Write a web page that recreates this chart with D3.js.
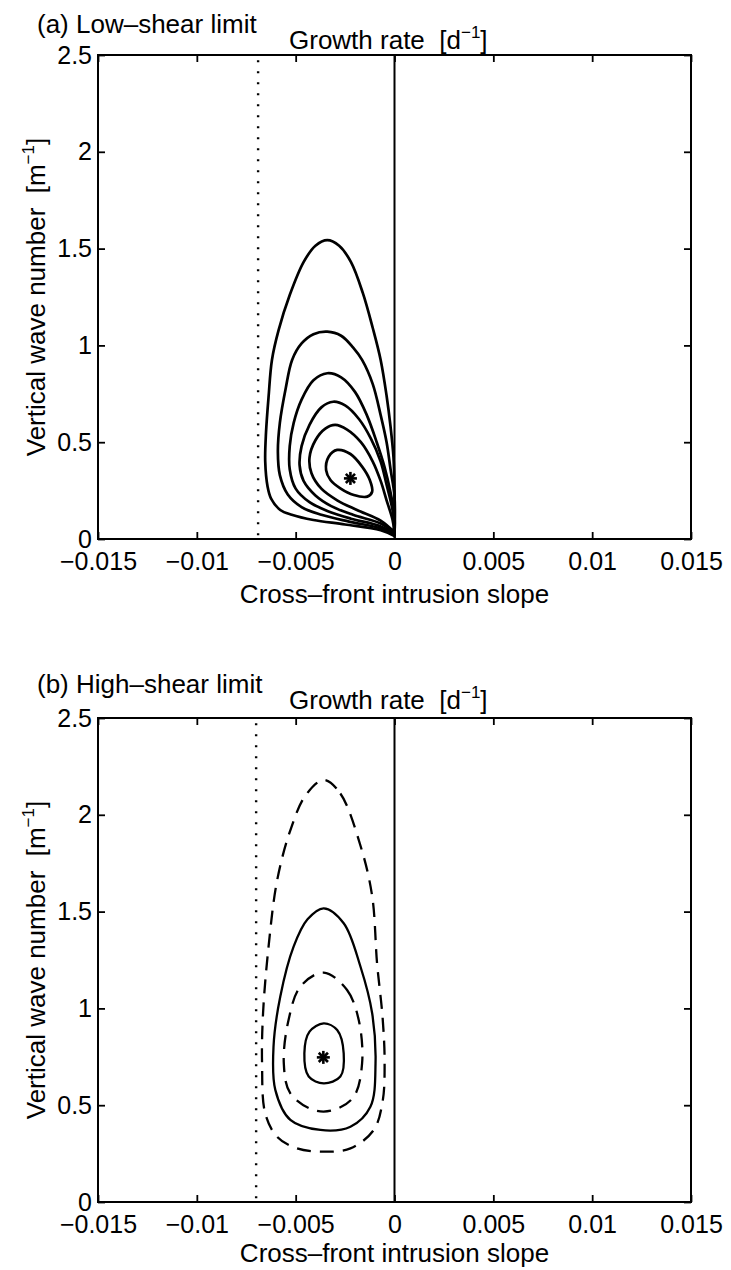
<!DOCTYPE html>
<html><head><meta charset="utf-8">
<script src="https://cdn.jsdelivr.net/npm/d3@7"></script>
<style>
body{margin:0;background:#fff}
text{font-family:"Liberation Sans",Arial,Helvetica,sans-serif;fill:#000}
</style>
</head><body>
<svg id="chart" width="731" height="1270"></svg>
<script>
// ---------- data ----------
const xTicks = [-0.015, -0.01, -0.005, 0, 0.005, 0.01, 0.015];
const xTickLabels = ["\u22120.015", "\u22120.01", "\u22120.005", "0", "0.005", "0.01", "0.015"];
const yTicks = [0, 0.5, 1, 1.5, 2, 2.5];
const yTickLabels = ["0", "0.5", "1", "1.5", "2", "2.5"];
const panelTitles = ["(a) Low\u2013shear limit", "(b) High\u2013shear limit"];
const plotTitle = "Growth rate";
const xAxisTitle = "Cross\u2013front intrusion slope";
const yAxisTitle = "Vertical wave number";
const dottedSlope = [-0.0069, -0.0070];
const starLow = [-0.00223, 0.313];
const starHigh = [-0.0036, 0.747];

// (a) low-shear contours, outer to inner (slope, wave number)
const lowC1 = [[0,0.015],[-0.0007,0.045],[-0.0025,0.075],[-0.0041,0.098],[-0.0052,0.125],[-0.00578,0.15],[-0.00625,0.21],[-0.00642,0.27],[-0.00654,0.4],[-0.0065,0.55],[-0.00637,0.735],[-0.0062,0.925],[-0.00586,1.08],[-0.0053,1.26],[-0.0046,1.43],[-0.0040,1.515],[-0.0034,1.544],[-0.0028,1.515],[-0.0022,1.43],[-0.0016,1.27],[-0.0011,1.09],[-0.0007,0.925],[-0.0004,0.74],[-0.0002,0.58],[-0.00005,0.42],[0,0.25],[0,0.015]];
const lowC2 = [[0,0.02],[-0.0007,0.055],[-0.0023,0.09],[-0.0037,0.125],[-0.0047,0.165],[-0.0054,0.23],[-0.0058,0.33],[-0.0059,0.45],[-0.0058,0.6],[-0.0055,0.78],[-0.00518,0.925],[-0.0047,1.01],[-0.0041,1.058],[-0.0034,1.071],[-0.0027,1.05],[-0.0021,0.99],[-0.00164,0.925],[-0.0011,0.8],[-0.0007,0.64],[-0.0004,0.5],[-0.0002,0.36],[0,0.22],[0,0.02]];
const lowC3 = [[0,0.025],[-0.0007,0.065],[-0.0022,0.105],[-0.0034,0.145],[-0.0043,0.19],[-0.0050,0.26],[-0.0053,0.36],[-0.0053,0.48],[-0.0051,0.6],[-0.0047,0.72],[-0.0041,0.82],[-0.0034,0.856],[-0.0027,0.835],[-0.0020,0.76],[-0.0014,0.64],[-0.0009,0.5],[-0.0005,0.37],[-0.0002,0.24],[0,0.12],[0,0.025]];
const lowC4 = [[0,0.03],[-0.0007,0.08],[-0.0021,0.125],[-0.0032,0.17],[-0.0040,0.225],[-0.0046,0.3],[-0.0048,0.38],[-0.0047,0.48],[-0.0043,0.59],[-0.0037,0.68],[-0.0031,0.709],[-0.0025,0.69],[-0.0018,0.62],[-0.0012,0.52],[-0.0007,0.4],[-0.0004,0.28],[-0.0001,0.15],[0,0.03]];
const lowC5 = [[0,0.035],[-0.0007,0.095],[-0.0019,0.15],[-0.0029,0.2],[-0.0037,0.26],[-0.0042,0.34],[-0.0043,0.42],[-0.0040,0.51],[-0.0035,0.57],[-0.0030,0.589],[-0.0024,0.565],[-0.0017,0.5],[-0.0011,0.4],[-0.0007,0.3],[-0.0004,0.2],[-0.0001,0.1],[0,0.035]];
const lowC6 = [[-0.0029,0.46],[-0.00223,0.439],[-0.00164,0.374],[-0.00125,0.305],[-0.00113,0.244],[-0.00138,0.219],[-0.00206,0.227],[-0.00274,0.262],[-0.00324,0.305],[-0.00346,0.356],[-0.00333,0.425]];

// (b) high-shear contours (closed)
const highDashOuter = [[-0.00358,2.18],[-0.00274,2.11],[-0.00172,1.84],[-0.00113,1.58],[-0.00088,1.23],[-0.0006,0.95],[-0.0005,0.72],[-0.0006,0.52],[-0.00105,0.372],[-0.00223,0.277],[-0.00358,0.26],[-0.00493,0.277],[-0.00594,0.337],[-0.00654,0.458],[-0.0067,0.716],[-0.00665,0.975],[-0.00637,1.32],[-0.00594,1.66],[-0.00527,1.92],[-0.0045,2.1]];
const highSolidOuter = [[-0.00358,1.517],[-0.00257,1.44],[-0.00172,1.215],[-0.00113,0.975],[-0.00096,0.716],[-0.00122,0.492],[-0.00223,0.389],[-0.00375,0.372],[-0.00527,0.424],[-0.00603,0.579],[-0.00612,0.803],[-0.00578,1.06],[-0.0051,1.32],[-0.0044,1.46]];
const highDashInner = [[-0.00358,1.185],[-0.0024,1.095],[-0.00181,0.94],[-0.00164,0.716],[-0.00206,0.544],[-0.00308,0.475],[-0.00409,0.475],[-0.00527,0.561],[-0.0056,0.716],[-0.00536,0.94],[-0.00476,1.113]];
const highSolidInner = [[-0.00358,0.923],[-0.0029,0.888],[-0.00257,0.768],[-0.00274,0.648],[-0.00358,0.613],[-0.00434,0.648],[-0.00456,0.768],[-0.0043,0.88]];

// ---------- drawing ----------
const svg = d3.select("#chart");
svg.append("rect").attr("width", 731).attr("height", 1270).attr("fill", "#fff");

const plotLeft = 98, plotRight = 691;
const panels = [
  {top: 55, bottom: 539, titleY: 33, growthY: 49, xTitleOff: 64, title: panelTitles[0], star: starLow, dotted: dottedSlope[0],
   open: [lowC1, lowC2, lowC3, lowC4, lowC5], closed: [{d: lowC6, dash: null}], lw: 2.7},
  {top: 718, bottom: 1202, titleY: 693, growthY: 709, xTitleOff: 60, title: panelTitles[1], star: starHigh, dotted: dottedSlope[1],
   open: [], closed: [{d: highDashOuter, dash: "14,9"}, {d: highSolidOuter, dash: null}, {d: highDashInner, dash: "14,9"}, {d: highSolidInner, dash: null}], lw: 2.3}
];

const FS = 25;

function drawPanel(p) {
  const x = d3.scaleLinear().domain([-0.015, 0.015]).range([plotLeft, plotRight]);
  const y = d3.scaleLinear().domain([0, 2.5]).range([p.bottom, p.top]);
  const g = svg.append("g");

  const styleAxis = sel => {
    sel.select(".domain").remove();
    sel.selectAll(".tick line").attr("stroke", "#000").attr("stroke-width", 1.8);
    sel.selectAll("text").attr("font-size", FS).attr("font-family", '"Liberation Sans",Arial,sans-serif').attr("fill", "#000");
  };
  g.append("g").attr("transform", `translate(0,${p.bottom})`)
    .call(d3.axisBottom(x).tickValues(xTicks).tickFormat((d, i) => xTickLabels[i]).tickSizeInner(-7).tickSizeOuter(0).tickPadding(13))
    .call(styleAxis);
  g.append("g").attr("transform", `translate(0,${p.top})`)
    .call(d3.axisTop(x).tickValues(xTicks).tickFormat("").tickSizeInner(-7).tickSizeOuter(0))
    .call(styleAxis);
  g.append("g").attr("transform", `translate(${plotLeft},0)`)
    .call(d3.axisLeft(y).tickValues(yTicks).tickFormat((d, i) => yTickLabels[i]).tickSizeInner(-7).tickSizeOuter(0).tickPadding(6))
    .call(styleAxis);
  g.append("g").attr("transform", `translate(${plotRight},0)`)
    .call(d3.axisRight(y).tickValues(yTicks).tickFormat("").tickSizeInner(-7).tickSizeOuter(0))
    .call(styleAxis);

  g.append("rect").attr("x", x(-0.015)).attr("y", y(2.5))
    .attr("width", x(0.015) - x(-0.015)).attr("height", y(0) - y(2.5))
    .attr("fill", "none").attr("stroke", "#000").attr("stroke-width", 2);

  const line = d3.line().x(d => x(d[0])).y(d => y(d[1]));

  g.append("path").attr("d", line([[0, 0], [0, 2.5]])).attr("stroke", "#000").attr("stroke-width", 2).attr("fill", "none");
  g.append("path").attr("d", line([[p.dotted, 0.02], [p.dotted, 2.5]])).attr("stroke", "#000")
    .attr("stroke-width", 2.4).attr("stroke-dasharray", "2,9").attr("fill", "none");

  const openLine = d3.line().x(d => x(d[0])).y(d => y(d[1])).curve(d3.curveCatmullRom.alpha(0.5));
  const closedLine = d3.line().x(d => x(d[0])).y(d => y(d[1])).curve(d3.curveCatmullRomClosed.alpha(0.5));
  p.open.forEach(c => {
    g.append("path").attr("d", openLine(c)).attr("fill", "none").attr("stroke", "#000")
      .attr("stroke-width", p.lw).attr("stroke-linejoin", "round");
  });
  p.closed.forEach(c => {
    const path = g.append("path").attr("d", closedLine(c.d)).attr("fill", "none").attr("stroke", "#000")
      .attr("stroke-width", p.lw).attr("stroke-linejoin", "round");
    if (c.dash) path.attr("stroke-dasharray", c.dash);
  });

  const sx = x(p.star[0]), sy = y(p.star[1]), r = 6.5;
  const sg = g.append("g").attr("stroke", "#000").attr("stroke-width", 2.6);
  [0, 45, 90, 135].forEach(a => {
    const rad = a * Math.PI / 180;
    sg.append("line").attr("x1", sx - r * Math.cos(rad)).attr("y1", sy - r * Math.sin(rad))
      .attr("x2", sx + r * Math.cos(rad)).attr("y2", sy + r * Math.sin(rad));
  });

  g.append("text").attr("x", 37).attr("y", p.titleY).attr("font-size", 26).text(p.title);
  const gt = g.append("text").attr("x", 289).attr("y", p.growthY).attr("font-size", 26);
  gt.append("tspan").text(plotTitle + "\u00a0\u00a0[d");
  gt.append("tspan").attr("font-size", 17).attr("dy", -11).text("\u22121");
  gt.append("tspan").attr("dy", 11).text("]");

  g.append("text").attr("x", (plotLeft + plotRight) / 2).attr("y", p.bottom + p.xTitleOff)
    .attr("text-anchor", "middle").attr("font-size", 26).text(xAxisTitle);

  const yt = g.append("text").attr("transform", `translate(45,${(p.top + p.bottom) / 2}) rotate(-90)`)
    .attr("text-anchor", "middle").attr("font-size", 26);
  yt.append("tspan").text(yAxisTitle + "\u00a0\u00a0[m");
  yt.append("tspan").attr("font-size", 17).attr("dy", -11).text("\u22121");
  yt.append("tspan").attr("dy", 11).text("]");
}

panels.forEach(drawPanel);
</script>
</body></html>
